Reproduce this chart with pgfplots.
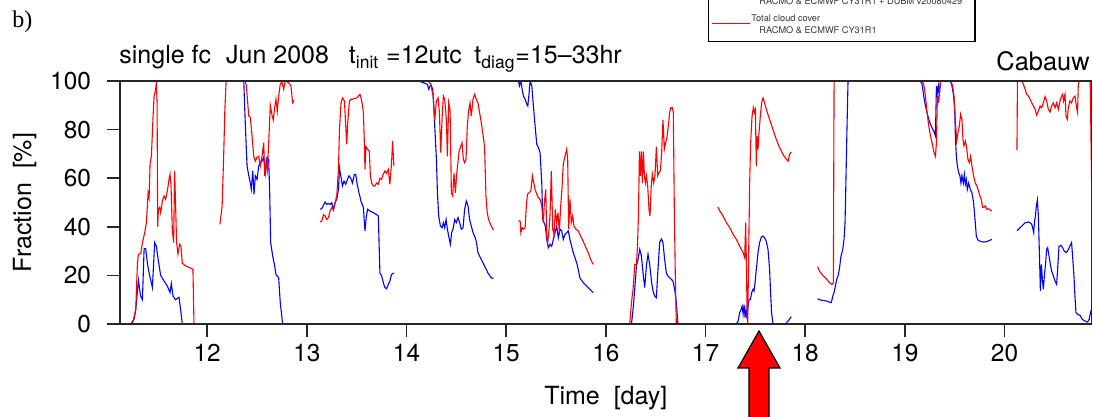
\documentclass[border=0pt]{standalone}
\usepackage{fontspec}
\setmainfont{TeX Gyre Heros}
\newfontfamily\seriffont{Liberation Serif}
\usepackage{pgfplots}
\pgfplotsset{compat=1.18}
\usepackage{pgfplotstable}

\pgfplotstableread{
x y
11.125 0
11.233 0
11.267 2
11.283 6
11.310 18
11.323 14
11.333 11.5
11.350 10
11.367 31
11.383 31
11.400 25
11.417 21
11.450 15
11.473 33.5
11.490 32
11.510 26
11.533 20
11.567 17.7
11.600 15.6
11.627 12.9
11.640 16.7
11.657 11.5
11.683 10
11.717 11
11.733 6
11.750 0
11.875 0
nan nan
12.125 100
12.367 100
12.377 88
12.390 74.6
12.400 65
12.417 61
12.433 58
12.443 55.4
12.457 63
12.470 53.4
12.483 61
12.500 59.5
12.517 65
12.533 66.4
12.550 67
12.567 68.6
12.583 62
12.600 68.6
12.617 67.8
12.627 54
12.637 33.5
12.657 28
12.677 23.9
12.690 20.4
12.717 19
12.733 8.8
12.757 0
12.875 0
nan nan
13.133 47.2
13.150 47.5
13.167 49
13.183 50.2
13.200 49.2
13.217 49.6
13.233 49.2
13.250 49.9
13.267 47
13.283 50
13.300 51.3
13.317 55.4
13.327 64.3
13.340 61
13.357 56.8
13.373 58.8
13.390 57.5
13.407 59.5
13.423 61
13.440 60
13.457 58
13.477 61.6
13.490 61.6
13.503 58
13.523 54
13.543 50.6
13.567 48
13.583 38.3
13.597 44.4
13.610 47.2
13.633 46.5
13.667 45.8
13.700 45
13.717 44.4
13.733 21
13.750 19.8
13.767 17
13.783 15
13.800 14.5
13.817 16.3
13.833 17.7
13.850 20.4
13.873 21
nan nan
14.125 100
14.210 98.6
14.223 96.6
14.243 98.6
14.263 96.6
14.273 89.7
14.283 81.5
14.300 67.8
14.310 54
14.323 44.4
14.340 40.3
14.357 39.6
14.370 41.7
14.383 39.6
14.397 43
14.410 39
14.423 36.2
14.440 32.8
14.453 37.6
14.470 39.6
14.483 43
14.500 41.7
14.517 43.8
14.533 41.7
14.550 39
14.567 39.6
14.583 47.2
14.600 50.6
14.617 48.6
14.633 43
14.650 40.3
14.667 37.6
14.683 36.2
14.700 34
14.717 29.4
14.733 28
14.750 26.6
14.783 23.9
14.817 21
14.850 19
14.873 18.7
nan nan
15.123 100
15.133 98
15.147 100
15.160 96.6
15.173 93.8
15.190 92.5
15.207 90.4
15.217 89.7
15.227 93.8
15.240 100
15.257 98
15.273 89.7
15.290 81.5
15.307 74
15.323 72.6
15.340 70.5
15.357 58
15.367 43
15.380 41.7
15.393 40.3
15.407 34.8
15.423 31.4
15.440 32.8
15.457 32
15.473 34.8
15.490 37.6
15.507 40.3
15.523 35.5
15.540 39
15.557 38.3
15.573 34.8
15.590 36.9
15.607 37.6
15.623 38.3
15.640 34.8
15.657 32
15.673 29.4
15.690 27.3
15.707 25.2
15.723 22.5
15.740 19
15.773 17
15.807 15.6
15.840 14.3
15.873 12.9
nan nan
16.125 0
16.257 0
16.273 6
16.290 14.3
16.307 23.9
16.323 26.6
16.340 30.7
16.357 28
16.373 21
16.390 15
16.407 23.9
16.423 28.7
16.440 24.5
16.457 17.7
16.473 13.6
16.490 11.5
16.507 10.8
16.523 22.5
16.540 33.5
16.557 35
16.573 33.5
16.590 26.6
16.607 21
16.623 19.8
16.640 19
16.657 18.4
16.673 17.7
16.690 14.3
16.707 8.8
16.723 0
16.875 0
nan nan
17.125 0
17.310 0
17.327 1.2
17.343 4.7
17.357 6
17.367 7.4
17.377 4
17.387 8
17.397 2.6
17.407 6
17.417 2
17.427 7.4
17.437 10
17.450 10
17.463 12.9
17.477 14.3
17.487 13.6
17.497 17
17.510 22.5
17.527 29.4
17.543 33.5
17.560 35.8
17.577 36.2
17.593 35.5
17.610 34
17.627 30.7
17.643 22.5
17.653 12.9
17.663 4.7
17.677 0
17.803 0
17.827 1.2
17.843 2
17.860 3
nan nan
18.125 10.4
18.143 10
18.177 9.7
18.210 9.5
18.243 9
18.263 8.8
18.277 11.5
18.290 12.9
18.303 15.6
18.317 18.4
18.330 19.8
18.343 22.5
18.360 28
18.377 30.7
18.390 34.8
18.400 41.7
18.410 61
18.420 81.5
18.430 100
18.875 100
nan nan
19.125 100
19.157 100
19.173 98.6
19.190 93.8
19.207 89.7
19.223 87
19.240 84.2
19.257 82.2
19.273 80.8
19.290 79.4
19.307 77.4
19.317 98
19.327 95.2
19.337 98
19.347 93.8
19.357 100
19.457 100
19.473 98
19.490 93.8
19.500 88.3
19.507 77.4
19.517 69
19.527 65
19.540 62.3
19.553 61
19.563 58
19.573 61
19.587 58
19.597 61.6
19.607 57.5
19.617 59.5
19.627 55.4
19.640 58
19.657 55.4
19.673 54
19.690 50
19.707 41.7
19.717 36.2
19.733 34.6
19.757 34
19.790 33.7
19.823 33.9
19.850 34.4
19.873 34.8
nan nan
20.125 38.3
20.140 39
20.157 39.6
20.173 40.3
20.190 41
20.207 41.7
20.223 41.7
20.240 42
20.257 41.7
20.273 41
20.283 39.6
20.293 37.6
20.300 41.7
20.310 44.4
20.320 48.6
20.330 51
20.340 44.4
20.350 29.4
20.360 13.6
20.370 24.5
20.380 18.4
20.390 14.3
20.400 19.8
20.413 25.2
20.423 30.7
20.433 31.4
20.447 28
20.460 24.5
20.473 21.8
20.490 19.8
20.507 17.7
20.523 16.3
20.533 22.5
20.547 32
20.567 32.4
20.583 31.4
20.600 30
20.617 29.4
20.633 30
20.653 31.8
20.673 33.5
20.683 28
20.697 19.8
20.707 11.5
20.717 4.7
20.733 4
20.757 3.6
20.780 1.9
20.807 1.2
20.833 0.8
20.850 1.9
20.863 4.7
20.873 6
}\bluedata

\pgfplotstableread{
x y
11.125 0
11.250 0
11.283 6
11.300 25
11.310 28.7
11.333 29
11.350 33.5
11.373 37.6
11.390 41.7
11.407 54
11.417 52
11.427 66
11.440 69
11.457 85.6
11.467 93.8
11.483 96.6
11.490 99.7
11.497 91
11.503 40
11.510 47
11.523 48
11.533 45.8
11.550 50.6
11.567 52.7
11.583 51.3
11.600 54.7
11.617 59.5
11.627 61.6
11.637 56.8
11.650 39
11.663 33.5
11.673 63
11.683 48.6
11.693 33.5
11.707 28.7
11.723 32.8
11.737 32
11.750 25
11.783 23.9
11.823 23.2
11.857 22.5
11.867 0.5
11.875 0
nan nan
12.127 41
12.150 48.6
12.167 71.9
12.177 88
12.190 100
12.380 100
12.393 98
12.417 85.6
12.433 85
12.450 77.4
12.467 69
12.483 67
12.500 68.6
12.517 69
12.533 65
12.550 69
12.567 74.6
12.577 61
12.590 66.4
12.603 63
12.617 74.6
12.633 90
12.650 86
12.663 84
12.677 89
12.690 92.5
12.703 87.6
12.717 93.8
12.733 98.6
12.750 99.7
12.767 96.6
12.783 100
12.817 99.3
12.840 98
12.857 91
12.873 92
nan nan
13.133 42
13.150 42.4
13.167 45
13.183 44.4
13.200 43
13.217 43.8
13.233 46.5
13.250 47.9
13.267 47
13.283 49.9
13.300 52.7
13.317 63.6
13.327 80
13.343 91
13.357 93
13.377 91.8
13.390 81.6
13.400 73.9
13.410 82.9
13.427 91.8
13.443 92.5
13.460 92.5
13.477 92.8
13.500 93
13.517 93.8
13.533 94.5
13.543 93
13.557 90.4
13.567 87
13.577 74.6
13.583 63.6
13.593 73
13.610 71.9
13.627 71
13.637 61
13.650 58
13.667 56.8
13.683 56.8
13.700 58
13.717 57.5
13.733 60
13.750 59.5
13.767 61.6
13.783 63
13.800 62
13.817 63.6
13.833 57.5
13.850 66.4
13.860 75.3
13.873 65
nan nan
14.125 100
14.217 100
14.243 98.6
14.267 93.8
14.283 84
14.300 91.8
14.317 93
14.330 87
14.343 70.5
14.357 85
14.370 93.8
14.383 92.5
14.400 84
14.410 69
14.423 91
14.437 88
14.450 54
14.463 52.7
14.477 62
14.490 54
14.503 61.6
14.517 67
14.527 71
14.540 72.6
14.557 74.6
14.570 67.8
14.583 66.4
14.597 67.8
14.610 81.5
14.623 87.7
14.637 91
14.650 85.6
14.667 92.5
14.683 94.5
14.700 92.5
14.717 91
14.733 87
14.750 82.9
14.767 78
14.783 73
14.797 52.7
14.810 45.8
14.823 43
14.850 40.3
14.873 38.7
nan nan
15.123 42.4
15.140 42.4
15.147 37.6
15.160 39.6
15.173 39
15.190 39.6
15.200 47.2
15.213 53.4
15.230 54
15.247 54.7
15.263 61
15.277 58
15.290 55.4
15.307 53.4
15.323 52
15.340 51.3
15.357 48.6
15.373 41.7
15.383 50
15.397 55.4
15.407 36.2
15.417 33.5
15.430 39
15.440 45
15.453 63
15.467 39
15.480 36.9
15.493 47.2
15.507 41.7
15.520 45.8
15.533 37.6
15.547 48.6
15.560 56
15.573 65.7
15.590 69
15.607 71.9
15.617 67.8
15.627 39
15.640 51.3
15.653 41.7
15.667 44.4
15.680 40.3
15.700 39
15.723 38.3
15.747 36.2
15.773 34
15.800 31.4
15.823 29.4
15.847 26.6
15.873 24.5
nan nan
16.125 0
16.240 0
16.257 8.8
16.273 14.3
16.290 24.5
16.307 24.5
16.317 32
16.327 44.4
16.337 71
16.347 61
16.357 71
16.367 58
16.377 71
16.387 61
16.397 58
16.407 61
16.420 56.8
16.433 47.2
16.443 44.4
16.457 58
16.467 61.6
16.480 58
16.493 61
16.507 73
16.520 61
16.533 62.3
16.547 63
16.560 70.5
16.573 84
16.587 71.9
16.600 74.6
16.613 76.7
16.627 81.5
16.640 87
16.653 89
16.667 89
16.677 87
16.687 47.2
16.697 19.8
16.707 0
16.875 0
nan nan
17.125 48.1
17.143 46.5
17.177 44.4
17.210 41.7
17.243 39.6
17.277 36.9
17.310 34.8
17.343 32
17.377 29.4
17.393 27.3
17.403 41.7
17.410 25
17.417 6
17.423 0
17.430 19.8
17.437 40.3
17.443 58
17.453 74.6
17.467 85.6
17.480 89
17.490 87
17.500 88.3
17.510 65
17.517 77.4
17.527 71.9
17.537 78.7
17.550 85.6
17.563 91
17.577 93
17.593 91
17.610 88.3
17.643 84.2
17.677 80
17.710 76
17.743 72.6
17.777 69.8
17.810 67.8
17.830 67
17.843 69.8
17.860 70.8
nan nan
18.125 23.6
18.143 21.8
18.177 20
18.210 18.7
18.243 17
18.270 16.3
18.283 17
18.290 100
18.875 100
nan nan
19.125 100
19.173 100
19.190 98.6
19.207 93.8
19.223 87
19.240 81.5
19.257 77.4
19.273 74.6
19.290 71
19.307 69
19.317 74.6
19.327 93.8
19.333 93.8
19.340 91
19.350 96.6
19.360 100
19.457 100
19.480 98
19.493 93.8
19.507 84.2
19.520 75.3
19.533 78.7
19.547 81.5
19.560 86.3
19.573 84.2
19.583 76
19.593 73.3
19.607 75.3
19.620 72.6
19.633 67.8
19.647 66.4
19.660 69
19.673 65
19.690 61
19.707 58
19.723 56.8
19.740 54.7
19.753 52.7
19.767 51.3
19.780 48
19.793 48
19.807 48.6
19.823 47.2
19.840 47.4
19.857 46.9
19.873 46.5
nan nan
20.125 71.6
20.130 100
20.173 100
20.190 98.6
20.207 96.6
20.223 94.5
20.240 93.8
20.257 92.5
20.273 91
20.290 89.7
20.307 88.3
20.323 85.9
20.340 87.7
20.357 89.7
20.373 89
20.390 91
20.407 93.6
20.423 91.8
20.440 88.3
20.457 87.2
20.473 89.7
20.490 91
20.507 89
20.523 91
20.540 88.3
20.557 91.8
20.573 93.8
20.583 94.5
20.593 91.8
20.607 94.5
20.617 85.6
20.630 84.2
20.640 89
20.657 91.8
20.673 91
20.690 93
20.707 93.8
20.723 89
20.733 87
20.740 98
20.747 100
20.860 100
20.875 55
}\reddata

\begin{document}
\begin{tikzpicture}
\begin{axis}[
  at={(60pt,46.5pt)}, anchor=south west,
  scale only axis, width=485.85pt, height=121.5pt,
  xmin=11.125, xmax=20.875, ymin=0, ymax=100,
  xtick={12,13,...,20}, ytick={0,20,...,100},
  xtick pos=bottom, ytick pos=left,
  tick align=outside, major tick length=6.5pt,
  axis line style={line width=0.75pt, black!85},
  every tick/.style={line width=0.75pt, black!85},
  tick label style={font=\fontsize{12.2}{13}\selectfont},
  yticklabel style={xshift=-4.5pt},
  /pgf/number format/assume math mode=true,
  unbounded coords=jump,
  axis on top,
  xlabel={Time\ \ [day]}, ylabel={Fraction\ \ [\%]},
  label style={font=\fontsize{12.5}{13}\selectfont},
  xlabel style={at={(axis description cs:0.5,-0.305)}, anchor=center},
  ylabel style={at={(axis description cs:-0.098,0.5)}, anchor=center},
]
\addplot[blue, line width=0.55pt] table {\bluedata};
\addplot[red, line width=0.55pt] table {\reddata};
\end{axis}
\begin{scope}[x=0.5pt,y=-0.5pt,yshift=208.5pt]
  \node[anchor=base west, inner sep=0pt, font=\fontsize{12.5}{13}\selectfont] at (119,64)
    {single fc\hspace{0.6em}Jun 2008\hspace{0.8em}t\textsubscript{init} =12utc\hspace{0.5em}t\textsubscript{diag}=15--33hr};
  \node[anchor=base east, inner sep=0pt, font=\fontsize{12.7}{13}\selectfont] at (1090,70.7) {Cabauw};
  \node[anchor=base west, inner sep=0pt, font=\seriffont\fontsize{12}{13}\selectfont] at (12,28) {b)};
  \draw[line width=0.6pt] (708.3,-20) -- (708.3,41.7) -- (975,41.7) -- (975,-20);
  \node[anchor=west, inner sep=0pt, text=black!80, font=\fontsize{4.6}{5}\selectfont] at (759,1) {RACMO \& ECMWF CY31R1 + DUBM v20080429};
  \draw[red, line width=0.6pt] (711.7,23.7) -- (750,23.7);
  \node[anchor=west, inner sep=0pt, text=black!80, font=\fontsize{4.6}{5}\selectfont] at (751,18) {Total cloud cover};
  \node[anchor=west, inner sep=0pt, text=black!80, font=\fontsize{4.6}{5}\selectfont] at (759,30) {RACMO \& ECMWF CY31R1};
  \draw[fill=red, line width=0.6pt] (759,331) -- (780,368) -- (769,368) -- (769,425) -- (749,425) -- (749,368) -- (738,368) -- cycle;
\end{scope}
\pgfresetboundingbox
\useasboundingbox (0,0) rectangle (546.5pt,208.5pt);
\end{tikzpicture}
\end{document}
